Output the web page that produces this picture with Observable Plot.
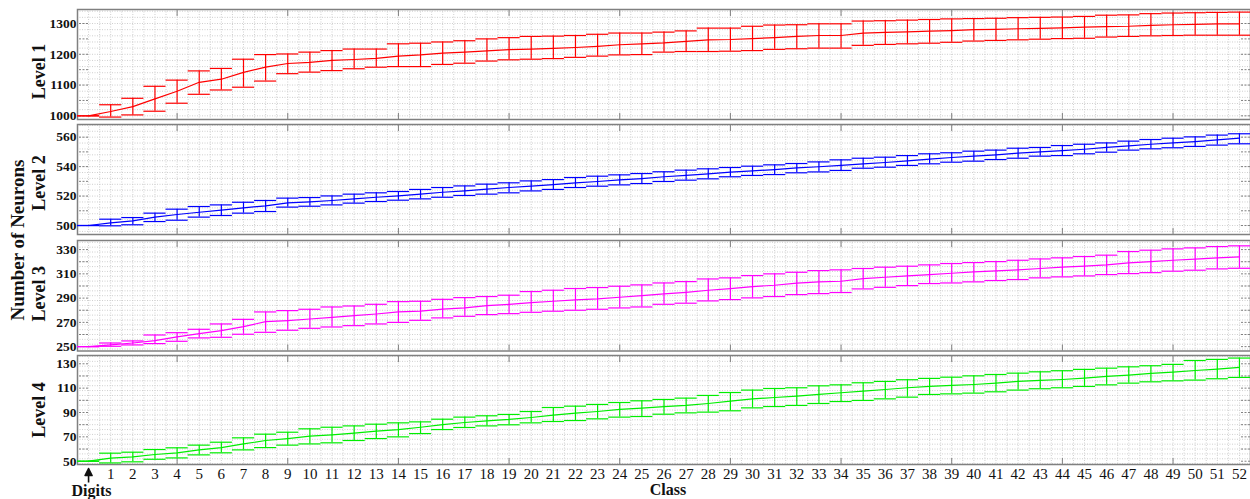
<!DOCTYPE html>
<html><head><meta charset="utf-8">
<script src="https://cdn.jsdelivr.net/npm/d3@7"></script>
<script src="https://cdn.jsdelivr.net/npm/@observablehq/plot@0.6"></script>
<style>
body{margin:0;background:#fff;}
#chart{position:relative;width:1250px;height:499px;overflow:hidden;font-family:"Liberation Serif",serif;background:#fff;}
.panel{position:absolute;left:0;}
#ylab{position:absolute;left:-82px;top:230px;width:200px;height:20px;line-height:20px;text-align:center;transform:rotate(-90deg);font-weight:bold;font-size:19px;font-family:"Liberation Serif",serif;color:#111;white-space:nowrap;}
</style></head><body><div id="chart"><div id="ylab"></div></div>
<script>
// ---- data ----
const classes = d3.range(0, 53);
const xTickLabels = d3.range(1, 53);
const xMajorTicks = [4, 9, 14, 19, 24, 29, 34, 39, 44, 49];
const firstClassLabel = "Digits";
const xTitle = "Class";
const yTitle = "Number of Neurons";
const levelLabels = ["Level 1", "Level 2", "Level 3", "Level 4"];

const l1Mean = [1000,1014,1030,1055,1080,1109,1119,1141,1158,1170,1174,1180,1183,1187,1194,1198,1204,1207,1211,1215,1217,1219,1222,1226,1231,1234,1237,1242,1247,1248,1251,1254,1258,1261,1261,1269,1271,1273,1275,1277,1280,1281,1283,1284,1286,1288,1290,1291,1294,1296,1297,1299,1299];
const l1Hi = [1000,1036,1057,1096,1116,1146,1154,1184,1199,1201,1207,1212,1217,1217,1234,1236,1240,1244,1250,1254,1258,1259,1261,1265,1269,1269,1272,1276,1285,1285,1291,1295,1296,1299,1299,1308,1309,1311,1313,1315,1316,1317,1319,1320,1321,1323,1327,1328,1332,1334,1335,1336,1337];
const l1Lo = [1000,996,1003,1015,1041,1070,1084,1093,1113,1137,1142,1147,1153,1158,1160,1160,1167,1171,1178,1182,1184,1186,1190,1194,1198,1199,1207,1209,1209,1210,1212,1216,1218,1220,1220,1229,1232,1234,1236,1239,1243,1245,1247,1249,1251,1252,1256,1258,1260,1261,1262,1262,1262];

const l2Mean = [500,501.8,503.2,505.7,507.5,509,510.4,512,513.4,515.4,516.1,517,518.1,519.2,520.1,521.3,522.6,523.5,524.7,525.8,526.7,527.8,529,529.9,531,531.9,533.1,534,535.1,536.2,537.1,538,539.2,539.9,540.8,541.9,542.8,543.9,545.1,546.2,547.1,548,549.1,550,550.9,551.8,553,554.1,555.2,556.1,557,558.2,559.3];
const l2Hi = [500,504.3,505.4,508.4,511.1,512.9,514,515.8,517,518.6,519,520.1,521.3,522.2,523.1,524.5,525.8,526.9,528.1,529,530.3,531.2,532.6,533.5,534.4,535.3,536.5,537.6,538.5,539.4,540.3,541.2,542.1,543.2,544.6,545.7,546.4,547.5,548.7,549.4,550.5,551.2,552.5,553,554.3,555.2,556.1,557.3,558.4,559.3,560.2,561.4,562.3];
const l2Lo = [500,499.8,500.5,502.7,503.6,505.7,506.8,508.4,509.5,512.5,513.1,514,515.2,516.3,517.2,518.1,519.2,520.4,521.3,522.2,523.5,524.5,525.8,526.7,527.6,528.5,529.9,530.8,531.7,533.1,534,534.6,535.8,536.4,537.4,538.9,539.6,540.8,541.9,543,543.7,544.8,545.7,547.1,547.5,548.7,549.8,551.2,552.1,552.8,553.7,554.6,555.5];

const l3Mean = [250,251.4,253,255,258,260.7,263.2,266.5,270.6,271.5,272.8,274.2,275.6,276.9,278.6,279.2,280.9,282,283.8,284.9,286.3,287.4,288.5,289.3,290.7,292.1,293.5,294.8,296.5,297.9,299.5,300.6,302.3,303.4,303.9,306.1,307.2,308.3,309.4,310.5,311.6,312.4,313.3,314.4,315.5,316.3,317.4,319,320.1,321.2,322.1,323.2,324];
const l3Hi = [250,253,254.7,259.6,261.5,264.3,268.7,272.5,278.6,279.7,280.8,282.7,283.5,284.9,287.1,287.4,289,290.4,291.3,292.4,295.4,296.5,297.9,298.7,299.8,300.9,302.5,303.6,305.8,306.7,308.6,310,311.3,312.7,313.3,314.4,315.5,316.3,317.4,318.5,319.3,320.1,321.2,322.3,323.2,324.3,325.4,328.4,329.5,330.6,331.4,332.5,333.1];
const l3Lo = [250,250.3,251.4,252.5,254.4,257.2,257.7,260.2,261.8,263.5,265.1,266.2,267.3,268.7,270,271.7,273.7,275,276.4,277.2,278.3,279.2,280,280.8,281.9,282.7,284.9,285.8,287.7,288.8,290.2,291.3,292.9,293.7,294.6,297.6,298.9,300.3,302,302.5,303.4,304.5,305.3,306.7,307.5,308.3,309.4,310.2,311,312.2,313,314.1,314.6];

const l4Mean = [50,52.5,53.6,55.5,56.9,59.3,61.2,64.2,67,68.6,70.6,71.6,73,74.7,76,77.9,80.1,81.8,83.2,84.3,85.9,87.8,89.5,90.8,92.5,93.6,94.9,95.8,97.4,99.3,101.2,102.3,103.4,104.8,106.2,107.5,108.9,110.3,111.4,112.2,113,114.1,115.5,116.3,117.1,118.2,119.6,120.7,122.1,123.2,124.5,125.6,127];
const l4Hi = [50,56.6,57.4,59.6,61,63.2,65.6,69.2,72.2,73.8,76.6,77.9,79,80.4,81.5,82.3,84.5,86.2,87.3,88.4,90.8,94.1,95.2,96.6,98.2,99.6,100.7,101.8,104,106.4,108.4,109.7,110.3,111.9,112.7,114.4,115.5,116.9,118,119,120.1,121.2,122.3,123.4,124.3,125.4,126.4,127.5,128.4,129.5,132.7,133.6,134.7];
const l4Lo = [50,48.6,49.5,51.6,52.7,55.2,56.9,59.3,61.2,63.2,64.2,65.1,67,68.6,70,72.7,76,77.7,79,79.9,81.5,82.6,83.4,84.8,86.2,86.7,88.6,89.7,90.3,91.4,93.8,94.9,95.8,97.4,99,99.9,101.2,102.6,104.8,105.3,105.9,107,108.4,109.5,110.3,111.4,112.7,114.1,115.2,116,116.6,117.7,118.8];

const l1YTicks = [1000, 1100, 1200, 1300];
const l2YTicks = [500, 520, 540, 560];
const l3YTicks = [250, 270, 290, 310, 330];
const l4YTicks = [50, 70, 90, 110, 130];

// ---- layout / styles ----
const panels = [
  {label: levelLabels[0], mean: l1Mean, hi: l1Hi, lo: l1Lo, ticks: l1YTicks, color: "#ff0000", domain: [988.1, 1345.5], tickStep: 50, gridStep: 20, top: 9, h: 110, labelDy: 7},
  {label: levelLabels[1], mean: l2Mean, hi: l2Hi, lo: l2Lo, ticks: l2YTicks, color: "#0000ff", domain: [493.9, 568.6], tickStep: 10, gridStep: 4, top: 124, h: 110, labelDy: 3.5},
  {label: levelLabels[2], mean: l3Mean, hi: l3Hi, lo: l3Lo, ticks: l3YTicks, color: "#ff00ff", domain: [246.4, 337.5], tickStep: 10, gridStep: 4, top: 239.5, h: 110.5, labelDy: -2},
  {label: levelLabels[3], mean: l4Mean, hi: l4Hi, lo: l4Lo, ticks: l4YTicks, color: "#00ee00", domain: [47.3, 136.8], tickStep: 10, gridStep: 4, top: 355, h: 109, labelDy: 0}
];

document.getElementById("ylab").textContent = yTitle;
const chart = document.getElementById("chart");
const xDomain = [-0.5, 52.5];
const xGrid = d3.range(-0.5, 52.51, 0.5);
const gray = "#808080";

// filled-head up arrow shape for the "Digits" pointer
const upArrow = {
  draw(context, l) {
    context.moveTo(0, 0);
    context.lineTo(0, -l + 5);
    context.moveTo(-3.5, -l + 7);
    context.lineTo(0, -l);
    context.lineTo(3.5, -l + 7);
    context.closePath();
  }
};

panels.forEach((p, k) => {
  const data = classes.map((c, i) => ({x: c, mean: p.mean[i], hi: p.hi[i], lo: p.lo[i]}));
  const isLast = k === panels.length - 1;
  const mt = 4, mb = isLast ? 36 : 4;
  const lo = p.domain[0], hi = p.domain[1];
  const yGrid = d3.range(Math.ceil(lo / p.gridStep) * p.gridStep, hi, p.gridStep);
  const yTickAll = d3.range(Math.ceil(lo / p.tickStep) * p.tickStep, hi, p.tickStep);
  const marks = [
    Plot.gridX(xGrid, {stroke: "#cfcfcf", strokeOpacity: 1, strokeDasharray: "1,1.5"}),
    Plot.gridY(yGrid, {stroke: "#cfcfcf", strokeOpacity: 1, strokeDasharray: "1,1.5"}),
    Plot.axisX(xMajorTicks, {anchor: "top", tickSize: 6, dy: 6, fill: "none", stroke: gray, label: null}),
    Plot.axisX(xMajorTicks, {anchor: "bottom", tickSize: 6, dy: -6, fill: "none", stroke: gray, label: null}),
    Plot.axisY(yTickAll, {anchor: "left", tickSize: 11, dx: 11, fill: "none", stroke: gray, strokeDasharray: "2,1.5", label: null}),
    Plot.axisY(yTickAll, {anchor: "right", tickSize: 10, dx: -10, fill: "none", stroke: gray, strokeDasharray: "2,1.5", label: null}),
    Plot.axisY(p.ticks, {anchor: "left", tickSize: 0, tickPadding: 1, tickFormat: d => String(d), fontSize: 13.5, fontWeight: "bold", fill: "#111", label: null}),
    Plot.frame({stroke: gray, strokeWidth: 1.5}),
    Plot.ruleX(data, {x: "x", y1: "lo", y2: "hi", stroke: p.color, strokeWidth: 1.2}),
    Plot.ruleY(data, {y: "hi", x1: d => d.x - 0.5, x2: d => d.x + 0.5, stroke: p.color, strokeWidth: 1.2}),
    Plot.ruleY(data, {y: "lo", x1: d => d.x - 0.5, x2: d => d.x + 0.5, stroke: p.color, strokeWidth: 1.2}),
    Plot.line(data, {x: "x", y: "mean", stroke: p.color, strokeWidth: 1.2}),
    Plot.text([p.label], {frameAnchor: "left", textAnchor: "middle", lineAnchor: "middle", dx: -38, dy: p.labelDy, rotate: -90, fontSize: 18, fontWeight: "bold", fill: "#111"})
  ];
  if (isLast) {
    marks.push(
      Plot.axisX(xTickLabels, {anchor: "bottom", tickSize: 0, tickPadding: 4, fontSize: 15, fill: "#111", label: null}),
      Plot.vector([classes[0]], {x: d => d, frameAnchor: "bottom", anchor: "end", length: 14, rotate: 0, dy: 4, shape: upArrow, stroke: "#111", fill: "#111", strokeWidth: 1.6, strokeLinecap: "butt"}),
      Plot.text([{x: classes[0], t: firstClassLabel}], {x: "x", text: "t", frameAnchor: "bottom", lineAnchor: "bottom", dx: 3, dy: 31, fontSize: 16, fontWeight: "bold", fill: "#111"}),
      Plot.text([xTitle], {frameAnchor: "bottom", lineAnchor: "bottom", dx: 4, dy: 30, fontSize: 16, fontWeight: "bold", fill: "#111"})
    );
  }
  const plot = Plot.plot({
    width: 1250,
    height: p.h + mt + mb,
    marginLeft: 77, marginRight: 0, marginTop: mt, marginBottom: mb,
    x: {domain: xDomain, axis: null},
    y: {domain: p.domain, axis: null},
    style: {fontFamily: "Liberation Serif", background: "transparent", overflow: "visible"},
    marks
  });
  const div = document.createElement("div");
  div.className = "panel";
  div.style.top = (p.top - mt) + "px";
  div.appendChild(plot);
  chart.appendChild(div);
});
</script>
</body></html>
